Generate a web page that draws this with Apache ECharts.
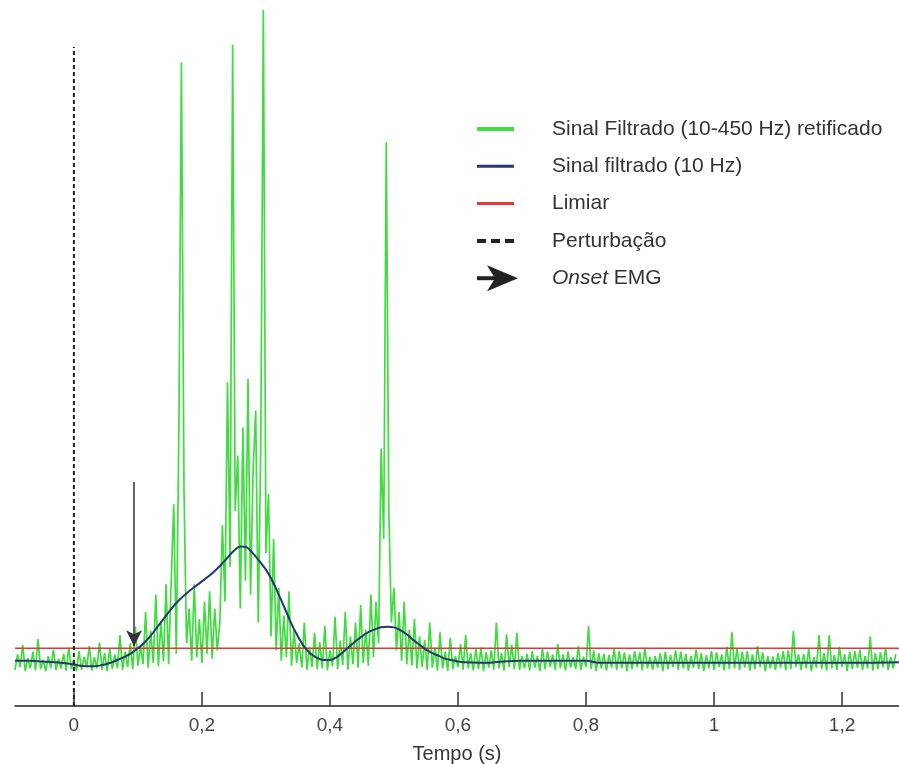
<!DOCTYPE html>
<html>
<head>
<meta charset="utf-8">
<script src="https://cdn.jsdelivr.net/npm/echarts@6/dist/echarts.min.js"></script>
<style>html,body{margin:0;padding:0;background:#fff}#c{width:899px;height:764px}</style>
</head>
<body>
<div id="c"></div>
<script>
// ---------- DATA ----------
const xTicks = [0, 0.2, 0.4, 0.6, 0.8, 1, 1.2];
const xMin = -0.092, xMax = 1.289;

// Rectified filtered EMG (10-450 Hz): sampled every greenStep seconds from greenStart
const greenStart = -0.092;
const greenStep = 0.004;
const greenValues = [
  5.2, 7.4, 5.6, 8.8, 5.0, 6.9, 5.4, 7.8, 5.1, 9.6, 5.3, 6.6, 5.0, 7.2, 5.5, 8.1, 5.2, 6.8, 5.4, 7.5,
  5.1, 8.4, 5.3, 6.7, 5.0, 7.9, 5.2, 7.1, 5.6, 8.6, 5.1, 7.0, 5.4, 9.1, 5.2, 7.6, 5.0, 8.2, 5.3, 7.4,
  5.4, 10.2, 5.2, 7.8, 5.6, 9.0, 5.3, 11.4, 5.8, 8.6, 6.0, 13.5, 5.5, 10.8, 6.2, 16.0, 5.7, 12.2, 6.4, 17.5,
  6.0, 18.0, 29.0, 7.5, 40.0, 92.5, 31.0, 9.0, 14.0, 6.5, 17.5, 7.0, 12.5, 6.2, 15.0, 7.5, 16.5, 6.8, 14.0, 8.0,
  12.0, 26.0, 15.0, 46.5, 20.0, 95.0, 28.0, 36.0, 14.0, 40.0, 18.0, 47.0, 16.0, 34.0, 42.5, 12.0, 38.0, 100.0, 22.0, 30.5,
  10.0, 24.0, 8.0, 17.0, 6.5, 13.0, 7.0, 16.5, 5.8, 11.0, 6.2, 9.0, 5.5, 12.0, 5.2, 8.5, 5.6, 10.5, 5.3, 9.2,
  5.4, 11.5, 5.1, 8.0, 5.7, 12.8, 5.3, 9.4, 5.9, 13.5, 5.2, 10.0, 6.0, 12.0, 5.5, 14.5, 6.2, 11.0, 5.8, 16.0,
  7.0, 15.0, 9.0, 37.0, 24.0, 81.0, 28.0, 12.0, 17.0, 8.0, 13.5, 6.5, 15.0, 6.0, 11.0, 5.8, 12.5, 5.4, 10.0, 5.6,
  9.5, 5.2, 12.0, 5.5, 8.4, 5.1, 10.6, 5.4, 7.8, 5.0, 9.8, 5.3, 7.2, 5.6, 8.9, 5.2, 10.2, 5.4, 7.6, 5.1,
  8.3, 5.3, 8.4, 5.0, 7.7, 5.5, 8.0, 5.2, 12.0, 5.4, 7.6, 5.1, 10.3, 5.6, 8.8, 5.3, 10.5, 5.2, 7.2, 5.4,
  7.5, 5.1, 7.9, 5.5, 7.2, 5.0, 8.3, 5.3, 7.8, 5.6, 7.4, 5.2, 8.9, 5.4, 7.4, 5.1, 7.8, 5.5, 7.0, 5.3,
  8.6, 5.2, 7.1, 5.6, 11.5, 5.3, 8.0, 5.0, 7.6, 5.4, 7.5, 5.1, 7.3, 5.5, 8.2, 5.2, 7.9, 5.4, 7.7, 5.0,
  7.4, 5.3, 7.9, 5.6, 7.7, 5.1, 8.4, 5.4, 7.1, 5.2, 7.2, 5.5, 7.6, 5.0, 7.8, 5.3, 7.3, 5.6, 8.0, 5.2,
  7.8, 5.4, 7.5, 5.1, 7.2, 5.5, 8.1, 5.3, 7.6, 5.0, 7.3, 5.4, 7.9, 5.2, 7.7, 5.6, 7.4, 5.1, 8.5, 5.3,
  10.6, 5.4, 8.3, 5.2, 7.8, 5.5, 7.9, 5.1, 7.4, 5.3, 8.6, 5.6, 7.7, 5.0, 7.2, 5.4, 7.1, 5.2, 7.6, 5.5,
  7.9, 5.1, 8.0, 5.3, 10.8, 5.6, 7.4, 5.2, 7.5, 5.4, 8.2, 5.0, 7.0, 5.5, 10.2, 5.3, 7.6, 5.1, 10.2, 5.4,
  7.3, 5.2, 8.5, 5.6, 7.4, 5.0, 7.8, 5.3, 7.9, 5.5, 8.1, 5.2, 7.2, 5.4, 10.0, 5.1, 7.6, 5.3, 7.7, 5.6,
  8.3, 5.2, 7.0, 5.4, 7.5
];

// Low-pass filtered envelope (10 Hz)
const blueTimes = [-0.092, -0.07, -0.05, -0.03, -0.01, 0.01, 0.03, 0.04,
  0.05, 0.06, 0.07, 0.08, 0.09, 0.10, 0.11, 0.12, 0.13, 0.14, 0.15, 0.16, 0.17, 0.18, 0.19, 0.20,
  0.21, 0.22, 0.23, 0.24, 0.25, 0.26, 0.27, 0.28, 0.29, 0.30, 0.31, 0.32, 0.33, 0.34, 0.35, 0.36,
  0.37, 0.38, 0.39, 0.40, 0.41, 0.42, 0.43, 0.44, 0.45, 0.46, 0.47, 0.48, 0.49, 0.50, 0.51, 0.52,
  0.53, 0.54, 0.55, 0.56, 0.57, 0.58, 0.59, 0.60, 0.61, 0.65, 0.67, 0.7, 0.8, 0.82, 0.9, 1.0, 1.1, 1.2, 1.289];
const blueValues = [6.5, 6.5, 6.4, 6.3, 6.1, 5.8, 5.7, 5.8,
  6.0, 6.3, 6.7, 7.1, 7.6, 8.3, 9.1, 10.1, 11.3, 12.5, 13.7, 14.8, 15.7, 16.5, 17.2, 17.9,
  18.6, 19.4, 20.3, 21.3, 22.3, 22.9, 22.8, 21.9, 20.8, 19.6, 18.0, 16.0, 13.9, 11.8, 10.0, 8.5,
  7.5, 6.9, 6.6, 6.6, 7.0, 7.7, 8.5, 9.3, 10.0, 10.6, 11.0, 11.3, 11.4, 11.3, 10.9, 10.3,
  9.5, 8.8, 8.1, 7.6, 7.2, 6.8, 6.6, 6.4, 6.3, 6.2, 6.4, 6.5, 6.5, 6.2, 6.2, 6.2, 6.2, 6.2, 6.3];

const thresholdValue = 8.3;
const perturbationTime = 0;
const perturbationTop = 94.7;
const onsetTime = 0.094;
const onsetArrowTop = 32.2;
const onsetArrowTip = 8.6;

const legendLabels = ['Sinal Filtrado (10-450 Hz) retificado', 'Sinal filtrado (10 Hz)', 'Limiar', 'Perturbação', 'Onset EMG'];
const axisTitle = 'Tempo (s)';

// ---------- STYLE ----------
const GREEN = '#3fdc3f', BLUE = '#26366f', RED = '#e0393b', INK = '#222';
const FONT = '"Liberation Sans", Arial, sans-serif';
const LEG_FS = 21;

const greenData = greenValues.map((v, i) => [+(greenStart + i * greenStep).toFixed(4), v]);
const blueData = blueTimes.map((t, i) => [t, blueValues[i]]);

const chart = echarts.init(document.getElementById('c'), null, {renderer: 'canvas'});

const legX = 477, legTextX = 552, legY0 = 129, legGap = 37.3;
const legendGraphics = [];
const legendIcons = [
  {type: 'line', shape: {x1: legX, y1: 0, x2: legX + 37, y2: 0}, style: {stroke: GREEN, lineWidth: 4}},
  {type: 'line', shape: {x1: legX, y1: 0, x2: legX + 37, y2: 0}, style: {stroke: BLUE, lineWidth: 3}},
  {type: 'line', shape: {x1: legX, y1: 0, x2: legX + 37, y2: 0}, style: {stroke: RED, lineWidth: 3}},
  {type: 'line', shape: {x1: legX, y1: 0, x2: legX + 37, y2: 0}, style: {stroke: INK, lineWidth: 4, lineDash: [9, 5]}},
  null
];
legendLabels.forEach((lab, k) => {
  const y = legY0 + k * legGap;
  if (legendIcons[k]) {
    const ic = JSON.parse(JSON.stringify(legendIcons[k]));
    ic.shape.y1 = y; ic.shape.y2 = y;
    legendGraphics.push(ic);
  } else {
    legendGraphics.push({type: 'line', shape: {x1: legX, y1: y, x2: legX + 20, y2: y}, style: {stroke: INK, lineWidth: 4}});
    legendGraphics.push({type: 'polygon', shape: {points: [[legX + 10, y - 13], [legX + 41, y], [legX + 10, y + 13], [legX + 18, y]]}, style: {fill: INK}});
  }
  if (k === 4) {
    legendGraphics.push({type: 'text', x: legTextX, y: y, style: {text: '{i|Onset} EMG', rich: {i: {fontStyle: 'italic', fontSize: LEG_FS, fontFamily: FONT, fill: '#333'}}, fontSize: LEG_FS, fontFamily: FONT, fill: '#333', verticalAlign: 'middle'}});
  } else {
    legendGraphics.push({type: 'text', x: legTextX, y: y, style: {text: lab, fontSize: LEG_FS, fontFamily: FONT, fill: '#333', verticalAlign: 'middle'}});
  }
});

chart.setOption({
  animation: false,
  backgroundColor: '#fff',
  grid: {left: 15, right: 0, top: 10, bottom: 58, containLabel: false, outerBoundsMode: 'none'},
  xAxis: {
    type: 'value', min: xMin, max: xMax,
    name: axisTitle, nameLocation: 'middle', nameGap: 38,
    nameTextStyle: {fontSize: 20, color: '#333', fontFamily: FONT},
    axisLine: {onZero: false, lineStyle: {color: INK, width: 1.5}},
    axisTick: {show: true, inside: true, length: 14, customValues: xTicks, lineStyle: {color: '#333', width: 1.5}},
    axisLabel: {customValues: xTicks, fontSize: 19, color: '#444', fontFamily: FONT, margin: 10,
      formatter: v => String(+v.toFixed(2)).replace('.', ',')},
    splitLine: {show: false}
  },
  yAxis: {type: 'value', min: 0, max: 100, show: false},
  graphic: legendGraphics,
  series: [
    {name: legendLabels[0], type: 'line', data: greenData, symbol: 'none', sampling: null,
      lineStyle: {color: GREEN, width: 1.7}, z: 2},
    {name: legendLabels[2], type: 'line', data: [[xMin, thresholdValue], [xMax, thresholdValue]], symbol: 'none',
      lineStyle: {color: RED, width: 1.6}, z: 3},
    {name: legendLabels[1], type: 'line', data: blueData, symbol: 'none', smooth: 0.3,
      lineStyle: {color: BLUE, width: 2}, z: 4},
    {name: legendLabels[3], type: 'line', data: [[perturbationTime, 0], [perturbationTime, perturbationTop]], symbol: 'none',
      lineStyle: {color: INK, width: 2, type: [4, 3]}, z: 5},
    {name: legendLabels[4], type: 'line', data: [], z: 6,
      markLine: {silent: true, symbol: ['none', 'arrow'], symbolSize: [12, 16], label: {show: false},
        lineStyle: {color: '#333', width: 1.5, type: 'solid'},
        data: [[{coord: [onsetTime, onsetArrowTop]}, {coord: [onsetTime, onsetArrowTip]}]]}}
  ]
});
</script>
</body>
</html>
